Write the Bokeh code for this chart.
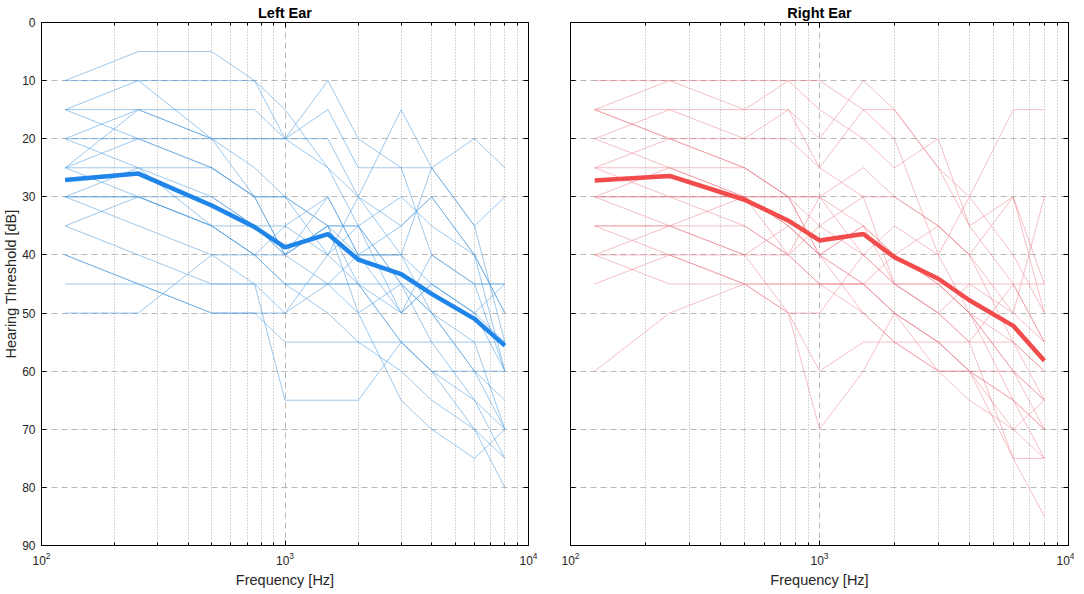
from bokeh.plotting import figure
from bokeh.models import Range1d, FixedTicker, LogAxis, LinearAxis, CustomJSTickFormatter
from bokeh.layouts import row
from bokeh.embed import file_html
from bokeh.resources import INLINE

FREQS = [125, 250, 500, 750, 1000, 1500, 2000, 3000, 4000, 6000, 8000]

LEFT_LINES = [
    [10, 5, 5, 10, 20, 10, 20, 25, 25, 20, 25],
    [10, 10, 10, 10, 15, 25, 30, 15, 25, 35, 30],
    [15, 15, 20, 20, 20, 15, 25, 25, 40, 45, 45],
    [15, 10, 20, 30, 40, 35, 45, 50, 45, 50, 60],
    [20, 15, 15, 15, 20, 20, 30, 35, 30, 40, 50],
    [20, 20, 20, 20, 20, 25, 35, 45, 50, 60, 65],
    [25, 15, 20, 25, 30, 40, 30, 40, 25, 35, 55],
    [25, 25, 30, 35, 35, 30, 40, 40, 50, 55, 70],
    [25, 20, 25, 30, 30, 35, 50, 45, 55, 65, 75],
    [30, 25, 25, 30, 30, 35, 35, 50, 40, 45, 60],
    [30, 30, 35, 40, 45, 45, 40, 40, 45, 50, 55],
    [30, 35, 40, 45, 50, 45, 45, 55, 60, 65, 70],
    [35, 30, 35, 40, 35, 40, 45, 55, 60, 70, 80],
    [35, 40, 45, 45, 65, 65, 65, 55, 60, 60, 60],
    [40, 45, 50, 50, 50, 40, 35, 45, 50, 60, 70],
    [40, 45, 50, 50, 55, 55, 55, 55, 55, 55, 55],
    [45, 45, 45, 45, 45, 45, 45, 45, 45, 45, 45],
    [50, 50, 40, 40, 40, 35, 40, 50, 45, 50, 45],
    [15, 20, 25, 30, 40, 45, 50, 65, 70, 75, 70],
    [25, 30, 35, 40, 45, 50, 55, 60, 65, 70, 75],
    [20, 25, 35, 35, 40, 30, 40, 35, 30, 40, 50],
    [30, 30, 30, 35, 40, 35, 35, 30, 35, 40, 60],
]

RIGHT_LINES = [
    [10, 10, 10, 10, 10, 15, 15, 25, 30, 40, 50],
    [15, 10, 15, 15, 20, 10, 15, 25, 35, 45, 55],
    [15, 15, 15, 10, 15, 20, 25, 20, 35, 30, 45],
    [15, 20, 25, 30, 40, 35, 40, 45, 50, 60, 65],
    [20, 15, 20, 15, 25, 15, 20, 40, 30, 15, 15],
    [25, 20, 25, 30, 35, 40, 35, 40, 50, 65, 70],
    [25, 25, 30, 35, 40, 45, 50, 55, 60, 65, 75],
    [30, 25, 25, 30, 30, 25, 30, 35, 40, 55, 60],
    [30, 30, 30, 30, 30, 35, 40, 45, 50, 60, 70],
    [30, 35, 40, 50, 70, 60, 50, 55, 60, 75, 75],
    [35, 35, 35, 40, 35, 30, 45, 50, 55, 55, 60],
    [35, 40, 45, 50, 60, 55, 55, 55, 55, 75, 85],
    [40, 40, 45, 50, 50, 40, 45, 50, 45, 50, 30],
    [40, 45, 45, 45, 45, 45, 45, 45, 45, 45, 45],
    [45, 40, 40, 35, 40, 45, 50, 55, 60, 70, 65],
    [60, 50, 45, 45, 45, 45, 50, 60, 60, 60, 65],
    [25, 30, 30, 35, 40, 35, 45, 50, 55, 45, 55],
    [20, 25, 30, 40, 45, 50, 55, 60, 65, 70, 75],
    [30, 30, 35, 40, 45, 45, 40, 35, 40, 50, 55],
    [15, 20, 20, 20, 25, 30, 30, 35, 40, 30, 50],
    [35, 35, 40, 40, 30, 40, 45, 45, 50, 55, 65],
    [40, 35, 30, 30, 40, 50, 55, 60, 60, 65, 70],
]

LEFT_MEAN = [27.1, 26.0, 31.5, 35.2, 38.7, 36.4, 40.8, 43.3, 46.7, 51.0, 55.6]
RIGHT_MEAN = [27.2, 26.4, 30.5, 34.1, 37.5, 36.4, 40.4, 44.1, 47.8, 52.2, 58.2]

X_MAJOR = [100, 1000, 10000]
X_MINOR = [200, 300, 400, 500, 600, 700, 800, 900,
           2000, 3000, 4000, 5000, 6000, 7000, 8000, 9000]
Y_TICKS = [0, 10, 20, 30, 40, 50, 60, 70, 80, 90]

FONT = "Liberation Sans"
TXT = "#262626"


def style_axis(ax, labels=True):
    ax.axis_line_color = "black"
    ax.major_tick_in = 5
    ax.major_tick_out = 0
    ax.minor_tick_in = 3
    ax.minor_tick_out = 0
    ax.major_tick_line_color = "black"
    ax.minor_tick_line_color = "black"
    ax.major_label_text_font = FONT
    ax.major_label_text_color = TXT
    ax.axis_label_text_font = FONT
    ax.axis_label_text_font_style = "normal"
    ax.axis_label_text_font_size = "14.5px"
    ax.axis_label_text_color = TXT
    if labels:
        ax.major_label_text_font_size = "12px"
        ax.major_label_standoff = 6
    else:
        ax.formatter = CustomJSTickFormatter(code="return ''")
        ax.major_label_text_font_size = "1px"
        ax.major_label_standoff = 0


def make_panel(title, lines, mean, thin_color, thin_alpha, mean_color,
               show_ylabels, border_left, border_right, fw):
    p = figure(x_axis_type="log", x_range=Range1d(100, 10000),
               y_range=Range1d(90, 0), frame_width=fw,
               frame_height=523, output_backend="svg", toolbar_location=None,
               min_border_left=border_left, min_border_right=border_right,
               min_border_top=0, min_border_bottom=0,
               title=title)
    p.title.align = "center"
    p.title.text_font = FONT
    p.title.text_font_size = "14.5px"
    p.title.text_font_style = "bold"
    p.title.text_color = "black"
    p.title.standoff = 4
    p.title.offset = 0

    p.outline_line_color = "black"
    p.outline_line_width = 1
    p.background_fill_color = "white"
    p.border_fill_color = "white"

    xt = FixedTicker(ticks=X_MAJOR, minor_ticks=X_MINOR)
    yt = FixedTicker(ticks=Y_TICKS, minor_ticks=[])
    p.xaxis.ticker = xt
    p.yaxis.ticker = yt
    style_axis(p.xaxis[0])
    p.xaxis[0].major_label_standoff = 6
    style_axis(p.yaxis[0], labels=show_ylabels)
    p.xaxis.axis_label = "Frequency [Hz]"
    p.xaxis.axis_label_standoff = 4
    if show_ylabels:
        p.yaxis.axis_label = "Hearing Threshold [dB]"
        p.yaxis.axis_label_standoff = 0

    top = LogAxis(ticker=xt)
    style_axis(top, labels=False)
    p.add_layout(top, "above")
    right = LinearAxis(ticker=yt)
    style_axis(right, labels=False)
    p.add_layout(right, "right")

    p.xgrid.grid_line_color = "#b8b8b8"
    p.xgrid.grid_line_dash = "6 4"
    p.xgrid.minor_grid_line_color = "#b0b0b0"
    p.xgrid.minor_grid_line_dash = "1 2"
    p.ygrid.grid_line_color = "#b8b8b8"
    p.ygrid.grid_line_dash = "6 4"

    p.multi_line(xs=[FREQS] * len(lines), ys=lines, line_color=thin_color,
                 line_alpha=thin_alpha, line_width=1)
    p.line(FREQS, mean, line_color=mean_color, line_width=4.5)
    return p


left = make_panel("Left Ear", LEFT_LINES, LEFT_MEAN, "#4a9ade", 0.55,
                  "#1f85e8", True, 0, 20, 487)
right = make_panel("Right Ear", RIGHT_LINES, RIGHT_MEAN, "#e8707e", 0.45,
                   "#f24b4b", False, 22, 6, 498)

layout = row(left, right)
open("out.html", "w").write(file_html(layout, INLINE))
